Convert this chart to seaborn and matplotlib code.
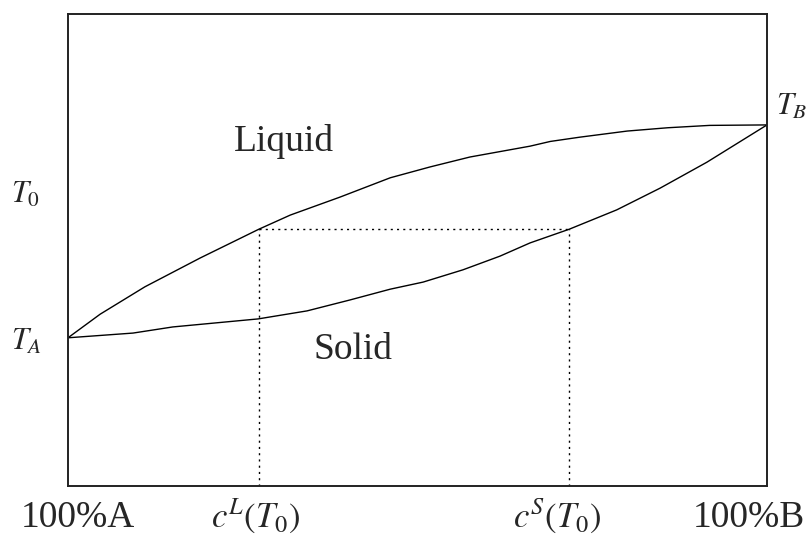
import matplotlib
matplotlib.use('Agg')
import matplotlib.pyplot as plt
import seaborn as sns

# 液相线 / 固相线（横轴：成分 %B，纵轴：温度，任意单位 0-100）
liquidus_x = [0, 4.6, 11.0, 18.9, 27.3, 31.8, 38.9, 46.1, 51.8, 57.5, 66.1, 69.0, 73.2, 80.0, 85.8, 91.8, 100]
liquidus_y = [31.4, 36.4, 42.2, 48.3, 54.4, 57.4, 61.2, 65.3, 67.6, 69.7, 72.0, 73.0, 73.9, 75.2, 75.9, 76.4, 76.5]

solidus_x = [0, 9.3, 15.0, 27.2, 34.2, 40.3, 46.1, 50.8, 56.5, 61.8, 66.1, 71.7, 78.5, 84.7, 91.4, 100]
solidus_y = [31.4, 32.4, 33.7, 35.4, 37.1, 39.4, 41.7, 43.2, 45.8, 48.7, 51.5, 54.4, 58.5, 63.1, 68.6, 76.5]

T_A, T_B, T_0 = 31.4, 76.5, 54.4
c_L, c_S = 27.3, 71.7

sns.set_style('white')
plt.rcParams['font.family'] = ['Liberation Serif', 'DejaVu Serif']
plt.rcParams['mathtext.fontset'] = 'stix'

fig = plt.figure(figsize=(8.1, 5.36), dpi=100)
ax = fig.add_axes([68 / 810, 1 - 486 / 536, 699 / 810, 472 / 536])

sns.lineplot(x=liquidus_x, y=liquidus_y, sort=False, color='black', linewidth=1.0, ax=ax)
sns.lineplot(x=solidus_x, y=solidus_y, sort=False, color='black', linewidth=1.0, ax=ax)

# 结线与成分线（虚线）
dots = (0, (1.5, 3))
ax.hlines(T_0, c_L, c_S, colors='black', linestyles=dots, linewidth=1.0)
ax.vlines([c_L, c_S], 0, T_0, colors='black', linestyles=dots, linewidth=1.0)

ax.set_xlim(0, 100)
ax.set_ylim(0, 100)
ax.set_xticks([])
ax.set_yticks([])
for s in ax.spines.values():
    s.set_visible(True)
    s.set_color('#222222')
    s.set_linewidth(1.4)

# 区域标注
ax.text(30.9, 71.0, 'Liquid', fontsize=27, ha='center', va='baseline')
ax.text(40.8, 26.9, 'Solid', fontsize=27, ha='center', va='baseline')

# 温度标注
ax.text(-8.2, 60.0, r'$T_0$', fontsize=22, ha='left', va='baseline', clip_on=False)
ax.text(-8.2, 28.8, r'$T_A$', fontsize=22, ha='left', va='baseline', clip_on=False)
ax.text(101.3, 78.6, r'$T_B$', fontsize=22, ha='left', va='baseline', clip_on=False)

# 成分标注
ax.text(-6.7, -8.7, '100%A', fontsize=27, ha='left', va='baseline', clip_on=False)
ax.text(105.4, -8.7, '100%B', fontsize=27, ha='right', va='baseline', clip_on=False)
ax.text(20.5, -8.7, r'$c^L(T_0)$', fontsize=25, ha='left', va='baseline', clip_on=False)
ax.text(63.7, -8.7, r'$c^S(T_0)$', fontsize=25, ha='left', va='baseline', clip_on=False)

plt.savefig('out.png', dpi=100)
